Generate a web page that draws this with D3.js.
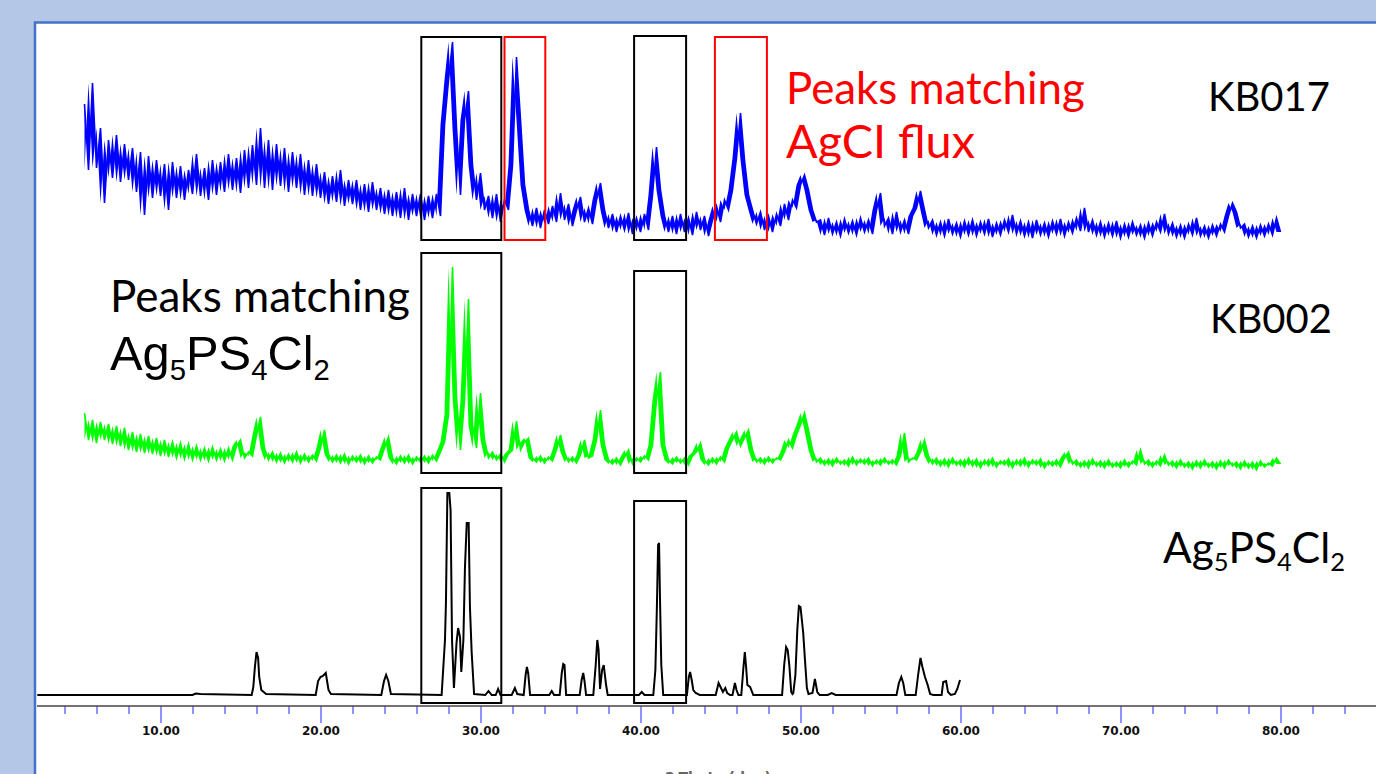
<!DOCTYPE html>
<html>
<head>
<meta charset="utf-8">
<script src="https://cdn.jsdelivr.net/npm/d3@7"></script>
<style>
  html, body { margin: 0; padding: 0; background: #b4c7e7; overflow: hidden; }
  svg { display: block; }
</style>
</head>
<body>
<svg id="chart"></svg>
<script>
// measured patterns share one 2-theta grid (degrees)
const gridStart = 5.25;
const gridStep = 0.25;

// KB017, relative counts on the grid
const kb017 = [
  136, 70, 157, 72, 112, 37,
  100, 62, 105, 58, 96, 60,
  92, 48, 88, 25, 84, 42,
  80, 44, 76, 30, 78, 42,
  74, 40, 70, 46, 86, 44, 72, 40, 80, 45, 78, 48,
  86, 50, 82, 47, 90, 52,
  95, 55, 112, 52, 100, 50,
  96, 54, 92, 48, 88, 52,
  86, 45, 80, 44, 76, 42,
  68, 36, 64, 38, 70, 34, 60, 36,
  60, 30, 56, 28, 58, 30, 52, 26,
  50, 24, 48, 22, 52, 20, 46, 24,
  46, 20, 44, 22, 46, 24,
  115, 160, 198, 112, 45, 120, 149, 75, 40, 67, 30, 44,
  22, 46, 18, 40,
  30, 75, 183, 120, 55, 30,
  14, 32, 12, 30, 16, 34, 18,
  47, 20, 36, 14, 30, 43, 18, 32, 16, 40, 57, 30, 12,
  26, 8, 24, 10, 27, 6, 22, 8, 26, 10,
  45, 93, 50, 24, 8,
  24, 6, 26, 8, 22, 5, 28, 10, 24, 4, 20,
  34, 18, 40, 30, 50, 82, 127, 80, 45, 30, 16, 28, 10, 24, 8, 26, 14,
  36, 20, 40, 32, 55, 65, 50, 30, 18,
  20, 5, 22, 6, 18, 4, 21, 7, 19, 5, 22, 8, 20, 6,
  30, 47, 14, 22, 6, 28, 8, 20, 6, 24, 32, 49, 30, 12,
  20, 5, 18, 4, 21, 6, 17, 3, 19, 5, 20, 4,
  18, 6, 21, 3, 17, 5, 20, 8, 25, 6, 19, 4,
  18, 2, 20, 5, 17, 3, 19, 6, 21, 4, 18, 7,
  22, 9, 32, 8, 20, 5, 18, 3, 17, 4, 19, 2,
  16, 3, 18, 5, 15, 2, 17, 4, 18, 8, 26, 6,
  17, 3, 15, 2, 16, 5, 22, 4, 14, 2, 15, 4,
  16, 8, 24, 37, 28, 12, 16, 3, 14, 2, 15, 4,
  16, 5, 22, 8
];

// KB002, relative counts on the grid
const kb002 = [
  57, 30, 50, 27, 48, 30,
  46, 26, 44, 24, 42, 20,
  38, 18, 36, 17, 34, 16, 32, 14,
  30, 13, 28, 12, 27, 11, 26, 10,
  24, 10, 22, 9, 23, 10, 21, 9,
  22, 10, 24, 30, 12, 18, 14, 35, 53, 22, 10, 18,
  8, 17, 7, 16, 8, 18, 7, 16, 8, 15, 9, 22, 40, 16, 8,
  15, 7, 16, 6, 14, 8, 15, 6, 14, 7, 13, 10, 22, 33, 12, 6,
  14, 7, 15, 6, 13, 8, 14, 7, 15, 9, 18, 28,
  55, 203, 73, 20, 70, 171, 45, 22, 77, 30, 12,
  18, 10, 16, 8, 16, 20, 49, 20, 28, 32, 12,
  8, 14, 7, 13, 9, 20, 35, 18, 8, 13, 7, 15, 30, 12, 14, 30, 60, 25, 10,
  6, 12, 5, 13, 20, 6, 12, 8, 14, 10, 25, 70, 98, 25, 10,
  6, 13, 7, 12, 5, 14, 18, 27, 10, 5, 12, 6, 13, 8, 22, 30, 38, 24, 32, 40, 20, 8,
  12, 6, 13, 7, 12, 10, 18, 30, 22, 35, 45, 57, 40, 20, 8,
  12, 5, 11, 4, 12, 6, 10, 4, 13, 5, 11, 6, 12, 4, 10, 5, 12, 6, 10, 5, 14, 37, 8,
  12, 10, 18, 30, 14, 6,
  12, 4, 11, 3, 12, 5, 10, 3, 12, 4, 11, 2,
  10, 4, 12, 3, 9, 5, 11, 2, 10, 4, 12, 3,
  10, 5, 11, 2, 9, 4, 10, 3, 12, 18, 6, 10,
  3, 9, 2, 11, 4, 9, 2, 10, 3, 8, 2, 10,
  3, 9, 5, 20, 6, 10, 3, 9, 4, 15, 5, 9,
  2, 10, 3, 8, 1, 9, 2, 10, 3, 8, 1, 9,
  2, 10, 4, 8, 1, 9, 2, 8, 0, 9, 3, 7,
  4, 12, 6
];

// calculated Ag5PS4Cl2 pattern
const calcTheta = [
  2.3, 12.0, 12.2, 12.5, 15.7, 15.8, 15.9, 16.0, 16.1, 16.17, 16.3, 16.6,
  19.7, 19.85, 20.0, 20.15, 20.33, 20.5, 20.65, 23.8, 23.97, 24.1, 24.24, 24.4,
  27.57, 27.78, 27.84, 27.93, 28.05, 28.13, 28.22, 28.34, 28.5, 28.6, 28.72, 28.8,
  28.93, 29.03, 29.14, 29.26, 29.34, 29.45, 29.6, 30.3, 30.5, 30.7, 30.95, 31.1,
  31.25, 31.95, 32.15, 32.3, 32.7, 32.82, 32.9, 32.98, 33.1, 34.3, 34.45, 34.6,
  34.95, 35.08, 35.17, 35.25, 35.35, 36.2, 36.32, 36.42, 36.5, 36.6, 37.05, 37.2,
  37.3, 37.38, 37.47, 37.6, 37.7, 37.85, 37.95, 39.9, 40.08, 40.25, 40.8, 40.93,
  41.02, 41.1, 41.16, 41.22, 41.3, 41.42, 42.9, 43.02, 43.1, 43.2, 43.3, 43.45,
  43.7, 44.7, 44.88, 45.0, 45.15, 45.3, 45.42, 45.6, 45.75, 45.9, 46.0, 46.12,
  46.3, 46.42, 46.52, 46.6, 46.68, 46.85, 47.05, 48.85, 48.98, 49.1, 49.2, 49.3,
  49.42, 49.5, 49.55, 49.68, 49.8, 49.9, 50.0, 50.17, 50.28, 50.4, 50.5, 50.75,
  50.9, 51.05, 51.2, 51.7, 51.95, 52.2, 56.0, 56.15, 56.3, 56.42, 56.55, 57.2,
  57.35, 57.5, 57.62, 57.78, 57.95, 58.1, 58.3, 58.82, 58.92, 59.1, 59.22, 59.4,
  59.65, 59.8, 59.97
];
const calcIntensity = [
  0, 0, 1.5, 1, 0, 8, 28, 43, 37, 18, 5, 1,
  0, 14, 18, 19, 22, 5, 1, 0, 14, 20, 14, 1,
  0, 55, 92, 202, 202, 185, 55, 7, 52, 67, 58, 23,
  55, 128, 172, 172, 88, 42, 1, 0, 4, 0, 0, 6,
  0, 0, 7, 1, 0, 20, 28, 22, 0, 0, 4, 0,
  0, 22, 31, 30, 0, 0, 15, 22, 14, 0, 0, 30,
  55, 45, 6, 25, 30, 10, 0, 0, 3, 0, 0, 25,
  85, 150, 152, 95, 30, 0, 0, 18, 23, 15, 5, 2,
  0, 0, 12, 8, 3, 7, 2, 0, 0, 12, 5, 0,
  0, 25, 43, 28, 10, 8, 0, 0, 30, 48, 45, 30,
  3, 1, 2, 20, 65, 89, 88, 62, 35, 7, 1, 2,
  16, 3, 0, 0, 2, 0, 0, 12, 18, 12, 0, 0,
  20, 37, 28, 18, 10, 1, 0, 0, 13, 14, 3, 0,
  1, 6, 15
];

// highlighted 2-theta windows
const ag5Windows = [[26.3, 31.3], [39.6, 42.85]];
const agclWindows = [[31.5, 34.05], [44.65, 47.9]];

const width = 1376;
const height = 774;

const svg = d3.select("#chart")
    .attr("width", width)
    .attr("height", height);

// white slide panel
svg.append("rect")
    .attr("x", 35)
    .attr("y", 22.5)
    .attr("width", width)
    .attr("height", height)
    .attr("fill", "#fff")
    .attr("stroke", "#4472c4")
    .attr("stroke-width", 2.5);

const x = d3.scaleLinear().domain([2.3, 86]).range([37.3, 1376.5]);

// one vertical scale per stacked pattern
const yTop = d3.scaleLinear().domain([0, 200]).range([240, 40]);
const yMid = d3.scaleLinear().domain([0, 200]).range([470, 270]);
const yBot = d3.scaleLinear().domain([0, 200]).range([695, 495]);

const gridTheta = i => gridStart + i * gridStep;

// a noisy scan: the band each step sweeps through is filled (like a
// min/max plot per column), and the trace itself is stroked on top
function drawScan(values, yScale, color) {
  const band = d3.area()
      .x((d, i) => x(gridTheta(i)))
      .y0(d => yScale(d))
      .y1((d, i, arr) => yScale(i + 1 < arr.length ? arr[i + 1] : d));

  const trace = d3.line()
      .x((d, i) => x(gridTheta(i)))
      .y(d => yScale(d));

  svg.append("path")
      .datum(values)
      .attr("d", band)
      .attr("fill", color)
      .attr("stroke", "none");

  svg.append("path")
      .datum(values)
      .attr("d", trace)
      .attr("fill", "none")
      .attr("stroke", color)
      .attr("stroke-width", 1.6);
}

drawScan(kb017, yTop, "#0000ff");
drawScan(kb002, yMid, "#00ff00");

const calcLine = d3.line()
    .x(i => x(calcTheta[i]))
    .y(i => yBot(calcIntensity[i]));

svg.append("path")
    .datum(d3.range(calcTheta.length))
    .attr("d", calcLine)
    .attr("fill", "none")
    .attr("stroke", "#000")
    .attr("stroke-width", 2);

// boxes round the matching peaks
function drawBoxes(windows, yScale, tops, bottom, color) {
  svg.append("g")
    .selectAll("rect")
    .data(windows)
    .join("rect")
      .attr("x", d => x(d[0]))
      .attr("width", d => x(d[1]) - x(d[0]))
      .attr("y", (d, i) => yScale(tops[i]))
      .attr("height", (d, i) => yScale(bottom) - yScale(tops[i]))
      .attr("fill", "none")
      .attr("stroke", color)
      .attr("stroke-width", 2);
}
drawBoxes(ag5Windows, yTop, [203, 204], 0, "#000");
drawBoxes(agclWindows, yTop, [203, 203], 0, "#ff0000");
drawBoxes(ag5Windows, yMid, [217, 199], -3, "#000");
drawBoxes(ag5Windows, yBot, [207, 194], -8, "#000");

// x axis
const axisG = svg.append("g")
    .attr("transform", "translate(0,706)")
    .call(d3.axisBottom(x)
      .tickValues(d3.range(4, 87, 2))
      .tickSize(8)
      .tickFormat(d => d % 10 === 0 ? d.toFixed(2) : ""));

axisG.select(".domain").remove();
axisG.selectAll(".tick line")
    .attr("stroke", "#4848ff")
    .attr("stroke-width", 1.2)
    .attr("y2", d => d % 10 === 0 ? 17 : 8);
axisG.selectAll(".tick text")
    .attr("y", 20)
    .attr("fill", "#111")
    .style("font-family", "'DejaVu Sans', sans-serif")
    .style("font-weight", "bold")
    .style("font-size", "12px");

svg.append("line")
    .attr("x1", 37)
    .attr("x2", width)
    .attr("y1", 706)
    .attr("y2", 706)
    .attr("stroke", "#444")
    .attr("stroke-width", 1.5);

// axis title, cut by the bottom edge as in the slide
svg.append("text")
    .attr("x", 718)
    .attr("y", 782)
    .attr("text-anchor", "middle")
    .attr("fill", "#666")
    .style("font-family", "'DejaVu Sans', sans-serif")
    .style("font-weight", "bold")
    .style("font-size", "14px")
    .text("2-Theta (deg)");

// labels, sized to the widths they take in the slide
function fitText(sel, target) {
  const w = sel.node().getComputedTextLength();
  const fs = parseFloat(sel.style("font-size"));
  sel.style("font-size", (fs * target / w) + "px");
}

function label(txt, lx, ly, w, color, family) {
  const t = svg.append("text")
      .attr("x", lx)
      .attr("y", ly)
      .attr("fill", color)
      .style("font-family", family)
      .style("font-size", "40px")
      .text(txt);
  fitText(t, w);
}

const calibriLike = "Lato, 'Open Sans', sans-serif";
const arialLike = "'Liberation Sans', Arial, sans-serif";

label("KB017", 1208, 111, 122, "#000", calibriLike);
label("KB002", 1210, 333, 122, "#000", calibriLike);
label("Peaks matching", 786, 104, 299, "#ff0000", calibriLike);
label("AgCI flux", 786, 158, 189, "#ff0000", calibriLike);
label("Peaks matching", 110, 312, 300, "#000", calibriLike);

const formulaParts = [["Ag", false], ["5", true], ["PS", false], ["4", true], ["Cl", false], ["2", true]];

function formula(fx, fy, w, family) {
  const g = svg.append("g");
  function build(size) {
    g.selectAll("*").remove();
    const t = g.append("text")
        .attr("x", fx)
        .attr("y", fy)
        .attr("fill", "#000")
        .style("font-family", family)
        .style("font-size", size + "px");
    formulaParts.forEach(([s, sub], i) => {
      const prevSub = i > 0 && formulaParts[i - 1][1];
      const shift = size * 0.2;
      t.append("tspan")
          .attr("dy", sub ? shift : (prevSub ? -shift : 0))
          .style("font-size", sub ? (size * 0.6) + "px" : size + "px")
          .text(s);
    });
    return t.node().getComputedTextLength();
  }
  const w0 = build(40);
  build(40 * w / w0);
}

formula(110, 370, 220, arialLike);
formula(1163, 563, 182, calibriLike);
</script>
</body>
</html>
